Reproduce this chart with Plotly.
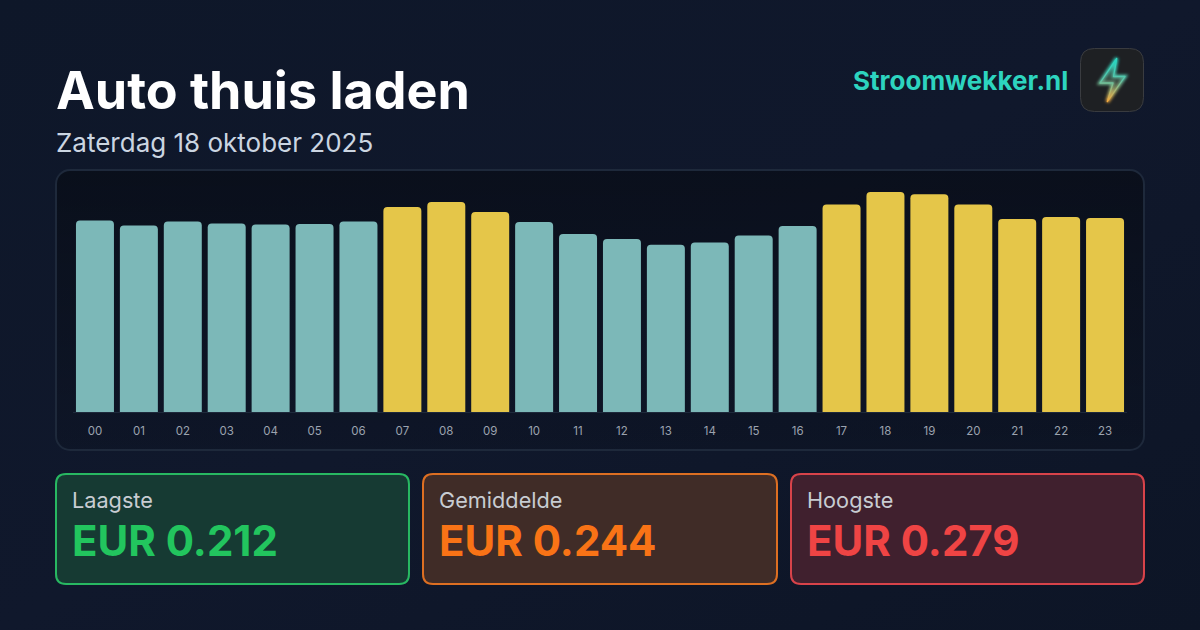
import base64
import plotly.graph_objects as go

FONT = "Inter"

# Hourly price per kWh, EUR
hours = ["00", "01", "02", "03", "04", "05", "06", "07", "08", "09", "10", "11",
         "12", "13", "14", "15", "16", "17", "18", "19", "20", "21", "22", "23"]
prices = [0.2429, 0.2365, 0.2416, 0.2391, 0.2378, 0.2384, 0.2416, 0.2600,
          0.2663, 0.2536, 0.2410, 0.2257, 0.2194, 0.2120, 0.2150, 0.2238,
          0.2359, 0.2632, 0.2790, 0.2762, 0.2632, 0.2448, 0.2473, 0.2460]
expensive_hours = ["07", "08", "09", "17", "18", "19", "20", "21", "22", "23"]

TEAL = "#7cb8b8"
YELLOW = "#e5c649"
bar_colors = [YELLOW if h in expensive_hours else TEAL for h in hours]

title = "Auto thuis laden"
subtitle = "Zaterdag 18 oktober 2025"
brand = "Stroomwekker.nl"

stat_labels = ["Laagste", "Gemiddelde", "Hoogste"]
stat_values = ["EUR 0.212", "EUR 0.244", "EUR 0.279"]
stat_accents = ["#22c55e", "#f97316", "#ef4444"]
stat_borders = ["#28b862", "#dd6f22", "#d8434a"]
stat_fills = ["#163a33", "#402c27", "#40202e"]
stat_left = [56, 423, 791]
stat_right = [409, 777, 1144]

W, H = 1200, 630


def px(x):
    return x / W


def py(y):
    return 1 - y / H


def data_uri(svg):
    return "data:image/svg+xml;base64," + base64.b64encode(svg.encode()).decode()


page_bg = f"""<svg xmlns='http://www.w3.org/2000/svg' width='{W}' height='{H}'>
<defs><linearGradient id='g' x1='0' y1='0' x2='1' y2='1'>
<stop offset='0' stop-color='#0e1729'/><stop offset='0.5' stop-color='#10182c'/>
<stop offset='1' stop-color='#0d1526'/></linearGradient>
<linearGradient id='p' x1='0' y1='0' x2='0' y2='1'>
<stop offset='0' stop-color='#000' stop-opacity='0.36'/>
<stop offset='1' stop-color='#000' stop-opacity='0.1'/></linearGradient></defs>
<rect width='{W}' height='{H}' fill='url(#g)'/>
<rect x='56' y='170' width='1088' height='280' rx='14' fill='url(#p)' stroke='#1e293b' stroke-width='2'/>
</svg>"""

bolt = """<svg xmlns='http://www.w3.org/2000/svg' width='64' height='64' viewBox='0 0 64 64'>
<defs>
<linearGradient id='s' x1='0' y1='0' x2='0' y2='1'>
<stop offset='0.1' stop-color='#2dd4bf'/><stop offset='0.5' stop-color='#5cc4a8'/>
<stop offset='1' stop-color='#f5a83c'/></linearGradient>
<linearGradient id='f' x1='0' y1='0' x2='0' y2='1'>
<stop offset='0.1' stop-color='#2dd4bf' stop-opacity='0.55'/>
<stop offset='0.55' stop-color='#6a7a60' stop-opacity='0.35'/>
<stop offset='1' stop-color='#f5a83c' stop-opacity='0.45'/></linearGradient>
<filter id='b' x='-60%' y='-60%' width='220%' height='220%'><feGaussianBlur stdDeviation='1.8'/></filter>
</defs>
<path d='M36.7 10.3 L20 35 L33 35 L27.3 53.7 L45 28.5 L33.5 28.5 Z' fill='none' stroke='url(#s)' stroke-width='3.5' filter='url(#b)'/>
<path d='M36.7 10.3 L20 35 L33 35 L27.3 53.7 L45 28.5 L33.5 28.5 Z' fill='url(#f)' stroke='url(#s)' stroke-width='1.3' stroke-linejoin='round'/>
</svg>"""

fig = go.Figure(
    go.Bar(x=hours, y=prices, marker=dict(color=bar_colors, line_width=0), hoverinfo="skip")
)


def rounded_rect(x0, y0, x1, y1, r):
    """SVG path of a rounded rectangle, in paper fractions from page pixels."""
    pts = [
        ("M", x0 + r, y0), ("L", x1 - r, y0), ("Q", x1, y0, x1, y0 + r),
        ("L", x1, y1 - r), ("Q", x1, y1, x1 - r, y1), ("L", x0 + r, y1),
        ("Q", x0, y1, x0, y1 - r), ("L", x0, y0 + r), ("Q", x0, y0, x0 + r, y0),
    ]
    out = []
    for p in pts:
        vals = []
        for i, v in enumerate(p[1:]):
            vals.append(f"{px(v):.5f}" if i % 2 == 0 else f"{py(v):.5f}")
        out.append(p[0] + " " + " ".join(vals))
    return " ".join(out) + " Z"


shapes = [
    dict(type="path", xref="paper", yref="paper", layer="below",
         path=rounded_rect(1080.5, 48.5, 1143.5, 111.5, 14),
         fillcolor="#1e2023", line=dict(color="#3a3c40", width=1)),
]
annotations = [
    dict(text=f"<b>{title}</b>", x=px(53.5), y=py(91), font=dict(size=52, color="#ffffff")),
    dict(text=subtitle, x=px(54), y=py(143), font=dict(size=26, color="#cbd5e1")),
    dict(text=f"<b>{brand}</b>", x=px(851), y=py(81), font=dict(size=26, color="#2dd4bf")),
]
for label, value, accent, border, fill, x0, x1 in zip(
    stat_labels, stat_values, stat_accents, stat_borders, stat_fills, stat_left, stat_right
):
    shapes.append(dict(type="path", xref="paper", yref="paper", layer="below",
                       path=rounded_rect(x0, 474, x1, 584, 10),
                       fillcolor=fill, line=dict(color=border, width=2)))
    annotations.append(dict(text=label, x=px(x0 + 13.5), y=py(500.5),
                            font=dict(size=21.7, color="#c8ccd2")))
    annotations.append(dict(text=f"<b>{value}</b>", x=px(x0 + 14), y=py(540.5),
                            font=dict(size=42, color=accent)))
for a in annotations:
    a.update(xref="paper", yref="paper", xanchor="left", yanchor="middle",
             showarrow=False, align="left")
    a["font"]["family"] = FONT

fig.update_layout(
    width=W, height=H,
    margin=dict(l=0, r=0, t=0, b=0),
    paper_bgcolor="#0f172a",
    plot_bgcolor="rgba(0,0,0,0)",
    bargap=0.135,
    barcornerradius=4,
    showlegend=False,
    font=dict(family=FONT),
    shapes=shapes,
    annotations=annotations,
    images=[
        dict(source=data_uri(page_bg), xref="paper", yref="paper", x=0, y=1,
             sizex=1, sizey=1, xanchor="left", yanchor="top", sizing="stretch", layer="below"),
        dict(source=data_uri(bolt), xref="paper", yref="paper", x=px(1080), y=py(48),
             sizex=64 / W, sizey=64 / H, xanchor="left", yanchor="top", sizing="stretch", layer="above"),
    ],
    xaxis=dict(domain=[px(73), px(1127)], type="category", range=[-0.5, 23.5],
               showgrid=False, zeroline=False, showline=True, linecolor="#1e293b", linewidth=1,
               ticks="", ticklabelstandoff=8, tickfont=dict(size=11.5, color="#9ca3af", family=FONT)),
    yaxis=dict(domain=[py(412), py(175.5)], range=[0, 0.3], showgrid=False, zeroline=False,
               showticklabels=False, ticks=""),
)

fig.write_html("out.html", config=dict(displayModeBar=False))
